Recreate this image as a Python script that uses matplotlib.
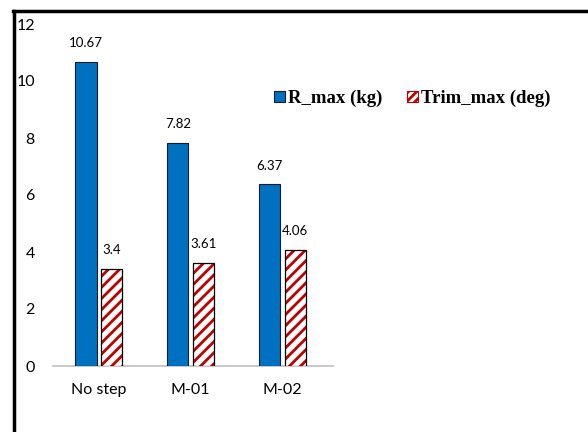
import matplotlib
matplotlib.use("Agg")
import matplotlib.pyplot as plt
from matplotlib.lines import Line2D
from matplotlib.patches import Patch
import numpy as np

cases = ["No step", "M-01", "M-02"]
r_max = [10.67, 7.82, 6.37]
trim_max = [3.4, 3.61, 4.06]
r_labels = ["10.67", "7.82", "6.37"]
trim_labels = ["3.4", "3.61", "4.06"]

plt.rcParams['hatch.linewidth'] = 2.0

fig = plt.figure(figsize=(5.88, 4.32), dpi=100)
ax = fig.add_axes([53/588, 1-366/432, 280/588, 342/432])

x = np.arange(len(cases))
w = 0.23
off = 0.14
blue = "#0070C0"
red = "#C00000"

ax.bar(x - off, r_max, w, color=blue, edgecolor="#1a1a2a", linewidth=0.8, zorder=3)
# hatched bars: red hatch, then a black outline on top
ax.bar(x + off, trim_max, w, color="white", edgecolor=red, hatch="///", linewidth=0, zorder=3)
ax.bar(x + off, trim_max, w, color="none", edgecolor="black", linewidth=0.9, zorder=4)

lab_font = "Lato"
for xi, v, s in zip(x - off, r_max, r_labels):
    ax.text(xi, v + 0.45, s, ha="center", va="bottom", fontsize=9.5, family=lab_font)
for xi, v, s in zip(x + off, trim_max, trim_labels):
    ax.text(xi, v + 0.45, s, ha="center", va="bottom", fontsize=9.5, family=lab_font)

ax.set_ylim(0, 12)
ax.set_yticks(range(0, 13, 2))
ax.set_xlim(-0.5, 2.55)
ax.set_xticks(x)
ax.set_xticklabels(cases, fontsize=11.5, family=lab_font)
for t in ax.get_yticklabels():
    t.set_fontsize(11.5)
    t.set_family(lab_font)
ax.tick_params(length=0, pad=13, axis="y")
ax.tick_params(length=0, pad=12, axis="x")
for s in ["top", "right", "left"]:
    ax.spines[s].set_visible(False)
ax.spines["bottom"].set_color("#BFBFBF")
ax.spines["bottom"].set_linewidth(1.2)

handles = [Patch(facecolor=blue, edgecolor="#1a1a2a", linewidth=0.8),
           Patch(facecolor="white", edgecolor=red, hatch="////", linewidth=0.8)]
leg = fig.legend(handles, ["R_max (kg)", "Trim_max (deg)"], loc="upper left",
                 bbox_to_anchor=(257/588, 1-73/432), ncol=2, frameon=False,
                 handlelength=0.6, handleheight=0.6, handletextpad=0.15, columnspacing=1.3,
                 prop={"family": "Liberation Serif", "weight": "bold", "size": 13.5})

# outer frame lines
fig.add_artist(Line2D([13/588, 1], [1-11/432, 1-11/432], color="black", lw=2.5, transform=fig.transFigure))
fig.add_artist(Line2D([14/588, 14/588], [0, 1-11/432], color="black", lw=2.5, transform=fig.transFigure))

fig.savefig("out.png", dpi=100)
